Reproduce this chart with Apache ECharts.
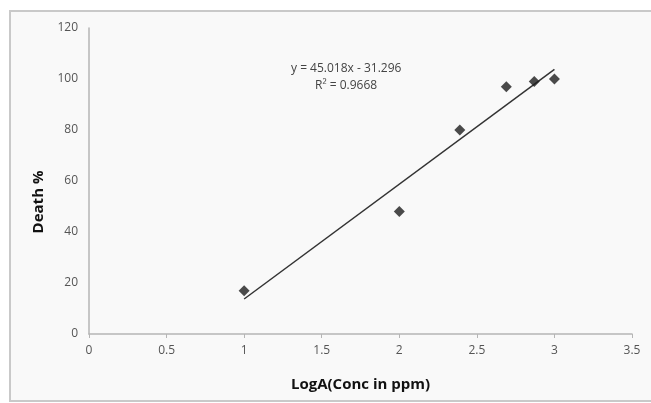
<!DOCTYPE html>
<html>
<head>
<meta charset="utf-8">
<script src="https://cdn.jsdelivr.net/npm/echarts@6/dist/echarts.min.js"></script>
<style>
  html, body { margin: 0; padding: 0; background: #fff; }
  #chart { width: 651px; height: 403px; }
</style>
</head>
<body>
<div id="chart"></div>
<script>
// log of concentration and death percentage
var logConc = [1, 2, 2.39, 2.69, 2.87, 3];
var deathPct = [17, 48, 80, 97, 99, 100];
// linear trendline as given on the chart
var slope = 45.018;
var intercept = -31.296;
var trendX = [1, 3];
var xTicks = [0, 0.5, 1, 1.5, 2, 2.5, 3, 3.5];
var yTicks = [0, 20, 40, 60, 80, 100, 120];

var chart = echarts.init(document.getElementById('chart'));

var points = logConc.map(function (x, i) { return [x, deathPct[i]]; });
var trend = trendX.map(function (x) { return [x, slope * x + intercept]; });

var fontFam = 'Open Sans, Liberation Sans, sans-serif';
var axisFont = { color: '#555', fontSize: 12, fontFamily: fontFam };

var option = {
  backgroundColor: '#ffffff',
  animation: false,
  graphic: [{
    type: 'rect',
    z: -10,
    shape: { x: 10, y: 11, width: 650, height: 390 },
    style: { fill: '#f9f9f9', stroke: '#c9c9c9', lineWidth: 2 }
  }, {
    type: 'text',
    left: 291, top: 63,
    style: { text: 'y = 45.018x - 31.296', fill: '#444', fontSize: 12, fontFamily: fontFam }
  }, {
    type: 'text',
    left: 315, top: 80,
    style: { text: 'R\u00b2 = 0.9668', fill: '#444', fontSize: 12, fontFamily: fontFam }
  }, {
    // y axis title, placed lower than the grid centre as in the original
    type: 'text',
    x: 39, y: 202,
    rotation: Math.PI / 2,
    style: { text: 'Death %', fill: '#111', fontWeight: 'bold', fontSize: 15, fontFamily: fontFam, align: 'center', verticalAlign: 'middle' }
  }],
  grid: { left: 89, right: 19, top: 28, bottom: 69 },
  xAxis: {
    type: 'value',
    min: 0, max: 3.5, interval: 0.5,
    name: 'LogA(Conc in ppm)',
    nameLocation: 'middle',
    nameGap: 43,
    nameTextStyle: { color: '#111', fontWeight: 'bold', fontSize: 15, fontFamily: fontFam },
    axisLine: { show: true, lineStyle: { color: '#b5b5b5', width: 1.5 } },
    axisTick: { show: true, length: 4, inside: false, lineStyle: { color: '#b5b5b5' } },
    axisLabel: Object.assign({ margin: 11, formatter: function (v) { return xTicks.indexOf(v) >= 0 ? String(v) : ''; } }, axisFont),
    splitLine: { show: false }
  },
  yAxis: {
    type: 'value',
    min: 0, max: 120, interval: 20,
    axisLine: { show: true, lineStyle: { color: '#b5b5b5', width: 1.5 } },
    axisTick: { show: false },
    axisLabel: Object.assign({ margin: 11, formatter: function (v) { return yTicks.indexOf(v) >= 0 ? String(v) : ''; } }, axisFont),
    splitLine: { show: false }
  },
  series: [{
    name: 'trend',
    type: 'line',
    data: trend,
    symbol: 'none',
    lineStyle: { color: '#333', width: 1.5 },
    z: 2
  }, {
    name: 'Death %',
    type: 'scatter',
    data: points,
    symbol: 'diamond',
    symbolSize: 11,
    itemStyle: { color: '#1e1e1e' },
    z: 3
  }]
};
chart.setOption(option);
</script>
</body>
</html>
